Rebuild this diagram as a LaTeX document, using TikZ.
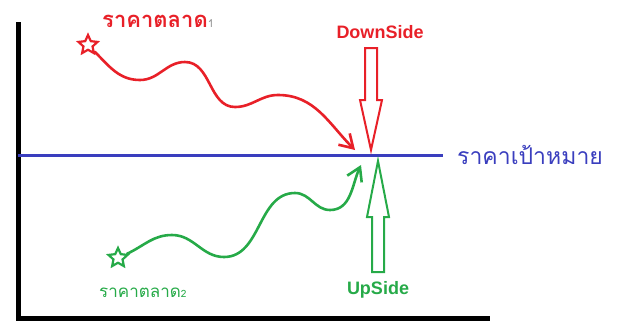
\documentclass[tikz,border=0pt]{standalone}
\usepackage{fontspec}
\setmainfont{Liberation Sans}
\newfontfamily\thaifont[Script=Thai]{Loma}
\usetikzlibrary{arrows.meta,shapes.geometric}

\definecolor{mkred}{RGB}{232,32,40}
\definecolor{mkgreen}{RGB}{38,170,72}
\definecolor{mkblue}{RGB}{58,62,190}
\definecolor{subgray}{RGB}{150,150,150}

\begin{document}
\begin{tikzpicture}[x=1pt,y=-1pt,>={Straight Barb[length=13pt,width=16pt]}, every node/.style={inner sep=0pt}]
\tikzstyle{pricestar}=[draw, star, star points=5, star point ratio=2.1, minimum size=20pt, line width=2.2pt]
\tikzstyle{wiggle}=[line width=2.6pt, line cap=round, line join=round]
\tikzstyle{blockarrow}=[line width=2pt, line join=miter]
\tikzstyle{sidelabel}=[font=\fontsize{18}{18}\selectfont\bfseries]
\useasboundingbox (0,0) rectangle (618,322);
% axes
\draw[line width=5pt] (18,22) -- (18,318) -- (490,318);
% target price line
\coordinate (lineend) at (443,155);
\draw[mkblue, line width=3pt] (18,155) -- (lineend);
\node[mkblue, anchor=west, font=\fontsize{23}{23}\selectfont\thaifont] (target) at ([xshift=14pt]lineend) {ราคาเป้าหมาย};
% market price 1 (above)
\node[mkred, anchor=west, font=\fontsize{22}{22}\selectfont\thaifont\bfseries] (mktA) at (102,21) {ราคาตลาด{\color{subgray}\mdseries\fontsize{11}{11}\selectfont 1}};
\node[pricestar, mkred] (starA) at (88,45) {};
\coordinate (hitA) at (355,150);
\draw[wiggle, mkred, ->] (starA) to[out=-45,in=180] (140,80) to[out=0,in=180] (185,62)
  to[out=0,in=180] (235,107) to[out=0,in=180] (278,95) to[out=0,in=135] (hitA);
% market price 2 (below)
\node[mkgreen, anchor=west, font=\fontsize{17}{17}\selectfont\thaifont] (mktB) at (99,293) {ราคาตลาด{\fontsize{10}{10}\selectfont 2}};
\node[pricestar, mkgreen] (starB) at (118,258) {};
\coordinate (hitB) at (361,165);
\draw[wiggle, mkgreen, ->] (starB) to[out=25,in=180] (172,235) to[out=0,in=180] (224,257)
  to[out=0,in=180] (295,193) to[out=0,in=180] (330,210) to[out=0,in=-115] (hitB);
% block arrows
\draw[mkred, blockarrow] (365,48) -- (377,48) -- (377,100) -- (382,100) -- (371,150) -- (360,100) -- (365,100) -- cycle;
\node[mkred, sidelabel] (down) at (380,32) {DownSide};
\draw[mkgreen, blockarrow] (372,272) -- (384,272) -- (384,217) -- (389,217) -- (378,161) -- (367,217) -- (372,217) -- cycle;
\node[mkgreen, sidelabel] (up) at (378,290) {UpSide};
\end{tikzpicture}
\end{document}
